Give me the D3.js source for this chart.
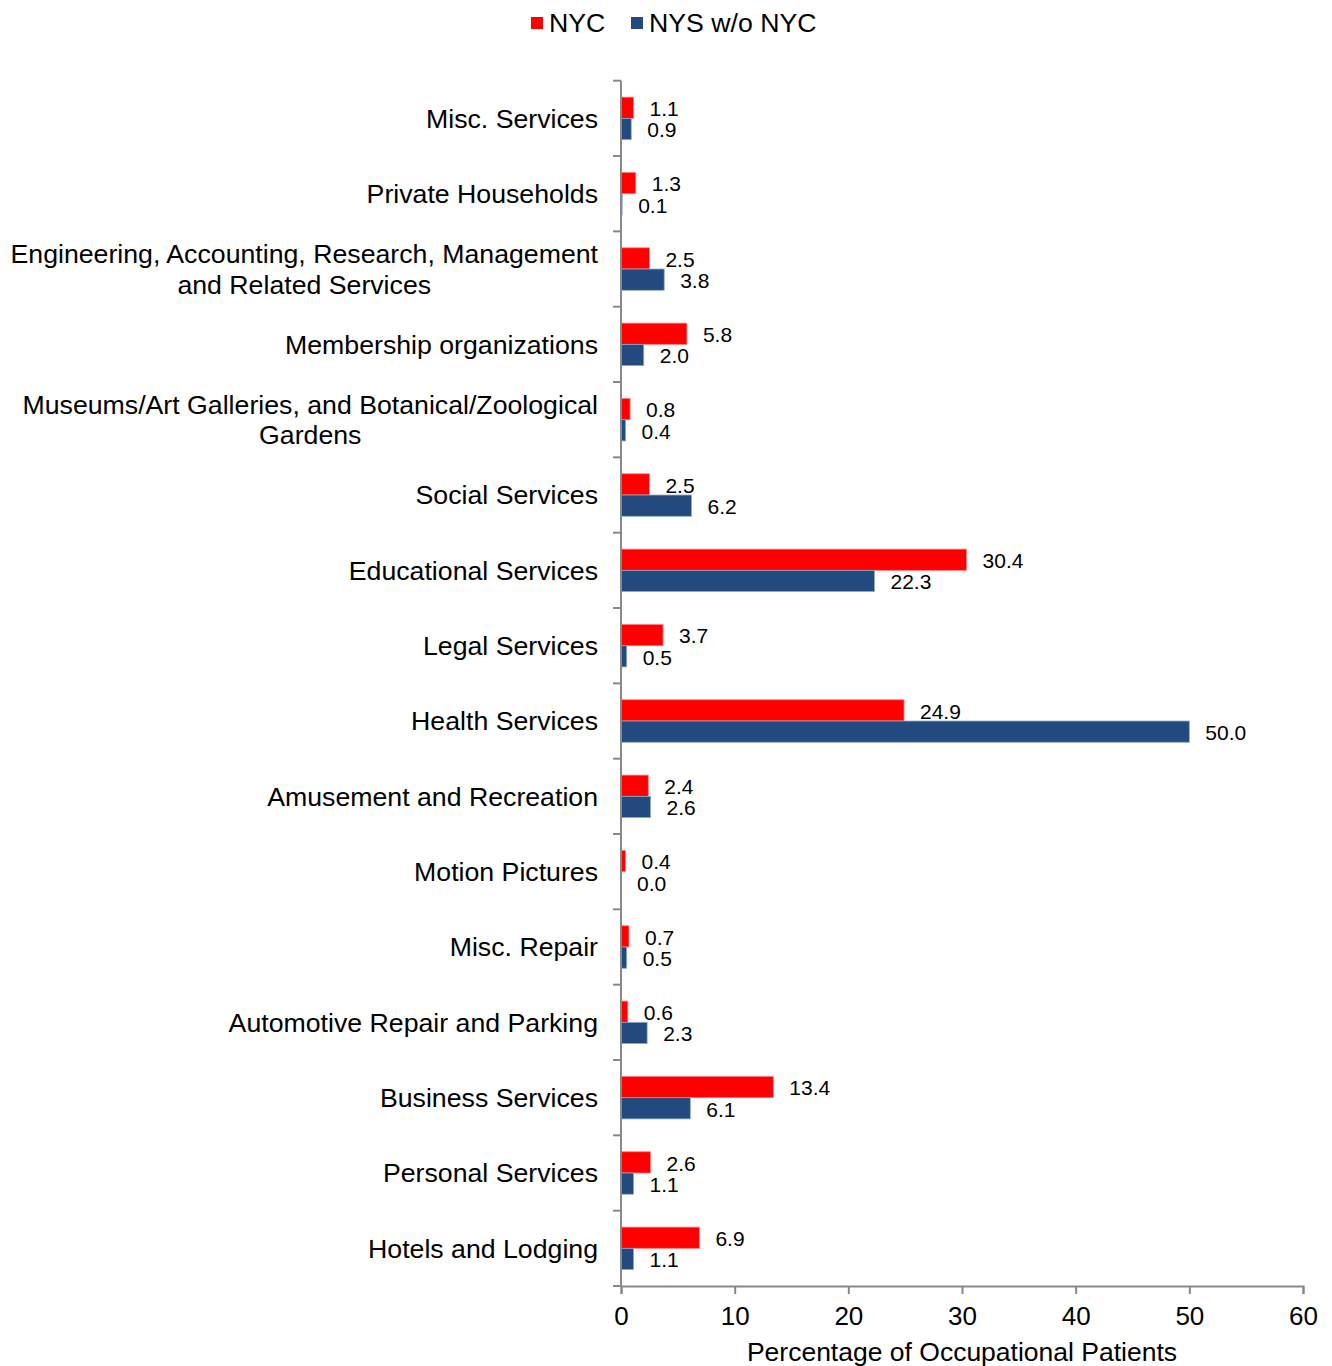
<!DOCTYPE html>
<html lang="en">
<head>
<meta charset="utf-8">
<title>Occupational patients by industry</title>
<script src="https://cdn.jsdelivr.net/npm/d3@7"></script>
<style>
  body { margin: 0; background: #fff; }
  text { font-family: "Liberation Sans", Arial, sans-serif; fill: #000; }
</style>
</head>
<body>
<script>
// categories top to bottom
var categories = [
  "Misc. Services",
  "Private Households",
  "Engineering, Accounting, Research, Management\nand Related Services",
  "Membership organizations",
  "Museums/Art Galleries, and Botanical/Zoological\nGardens",
  "Social Services",
  "Educational Services",
  "Legal Services",
  "Health Services",
  "Amusement and Recreation",
  "Motion Pictures",
  "Misc. Repair",
  "Automotive Repair and Parking",
  "Business Services",
  "Personal Services",
  "Hotels and Lodging"
];
var nyc    = [1.1, 1.3, 2.5, 5.8, 0.8, 2.5, 30.4, 3.7, 24.9, 2.4, 0.4, 0.7, 0.6, 13.4, 2.6, 6.9];
var nysWoNyc = [0.9, 0.1, 3.8, 2.0, 0.4, 6.2, 22.3, 0.5, 50.0, 2.6, 0.0, 0.5, 2.3, 6.1, 1.1, 1.1];
var seriesNames = ["NYC", "NYS w/o NYC"];
var xTicks = [0, 10, 20, 30, 40, 50, 60];

var w = 1332, h = 1366;
var plotLeft = 621, plotRight = 1303, plotTop = 80.7, plotBottom = 1286;
var colors = ["#ff0000", "#224a7e"];
var strokes = ["#ff8080", "#8fa8c8"];

var svg = d3.select("body").append("svg")
  .attr("width", w).attr("height", h);

var x = d3.scaleLinear().domain([0, 60]).range([plotLeft, plotRight]);
var y = d3.scaleBand().domain(d3.range(categories.length))
  .range([plotTop, plotBottom]).paddingInner(0.436).paddingOuter(0.218);
var sub = d3.scaleBand().domain([0, 1]).range([0, y.bandwidth()]);

var rows = categories.map(function(c, i) {
  return { i: i, name: c, vals: [nyc[i], nysWoNyc[i]] };
});

// bars
var g = svg.selectAll("g.cat").data(rows).enter().append("g")
  .attr("class", "cat")
  .attr("transform", function(d) { return "translate(0," + y(d.i) + ")"; });

g.selectAll("rect").data(function(d) { return d.vals; }).enter().append("rect")
  .attr("x", x(0))
  .attr("y", function(d, j) { return sub(j); })
  .attr("width", function(d) { return x(d) - x(0); })
  .attr("height", sub.bandwidth())
  .attr("fill", function(d, j) { return colors[j]; })
  .attr("stroke", function(d, j) { return strokes[j]; })
  .attr("stroke-width", 0.8);

g.selectAll("text.val").data(function(d) { return d.vals; }).enter().append("text")
  .attr("class", "val")
  .attr("x", function(d) { return x(d) + 16; })
  .attr("y", function(d, j) { return sub(j) + sub.bandwidth() / 2; })
  .attr("dy", "0.4em")
  .attr("font-size", "21px")
  .text(function(d) { return d.toFixed(1); });

// y axis: line + ticks at category boundaries
var step = y.step();
svg.append("line")
  .attr("x1", plotLeft).attr("x2", plotLeft).attr("y1", plotTop).attr("y2", plotBottom)
  .attr("stroke", "#888").attr("stroke-width", 2);
svg.selectAll("line.ytick").data(d3.range(categories.length + 1)).enter().append("line")
  .attr("class", "ytick")
  .attr("x1", plotLeft - 8).attr("x2", plotLeft)
  .attr("y1", function(d) { return plotTop + d * step; })
  .attr("y2", function(d) { return plotTop + d * step; })
  .attr("stroke", "#888").attr("stroke-width", 2);

// category labels
var labels = svg.selectAll("text.cat").data(rows).enter().append("text")
  .attr("class", "cat")
  .attr("font-size", "26.7px")
  .attr("text-anchor", "middle");
labels.each(function(d) {
  var t = d3.select(this);
  var lines = d.name.split("\n");
  var cy = y(d.i) + y.bandwidth() / 2;
  var lh = 30.5;
  var y0 = cy - (lines.length - 1) * lh / 2;
  lines.forEach(function(l, k) {
    t.append("tspan").attr("y", y0 + k * lh).attr("dy", "0.35em").text(l);
  });
  var maxW = 0;
  t.selectAll("tspan").each(function() {
    maxW = Math.max(maxW, this.getComputedTextLength());
  });
  t.selectAll("tspan").attr("x", 598 - maxW / 2);
});

// x axis
var xAxis = svg.append("g")
  .attr("transform", "translate(0," + plotBottom + ")")
  .call(d3.axisBottom(x).tickValues(xTicks).tickSize(8).tickPadding(13).tickFormat(d3.format("d")));
xAxis.select(".domain").attr("stroke", "#888").attr("stroke-width", 2);
xAxis.selectAll(".tick line").attr("stroke", "#888").attr("stroke-width", 2);
xAxis.selectAll(".tick text")
  .attr("font-size", "26px")
  .attr("font-family", "Liberation Sans, Arial, sans-serif")
  .attr("fill", "#000");

svg.append("text")
  .attr("x", (plotLeft + plotRight) / 2).attr("y", 1361)
  .attr("text-anchor", "middle")
  .attr("font-size", "26.5px")
  .text("Percentage of Occupational Patients");

// legend
var legendX = [531, 631];
seriesNames.forEach(function(s, j) {
  svg.append("rect")
    .attr("x", legendX[j]).attr("y", 17)
    .attr("width", 12).attr("height", 12)
    .attr("fill", colors[j]);
  svg.append("text")
    .attr("x", legendX[j] + 18).attr("y", 23)
    .attr("dy", "0.35em")
    .attr("font-size", "26.7px")
    .text(s);
});
</script>
</body>
</html>
